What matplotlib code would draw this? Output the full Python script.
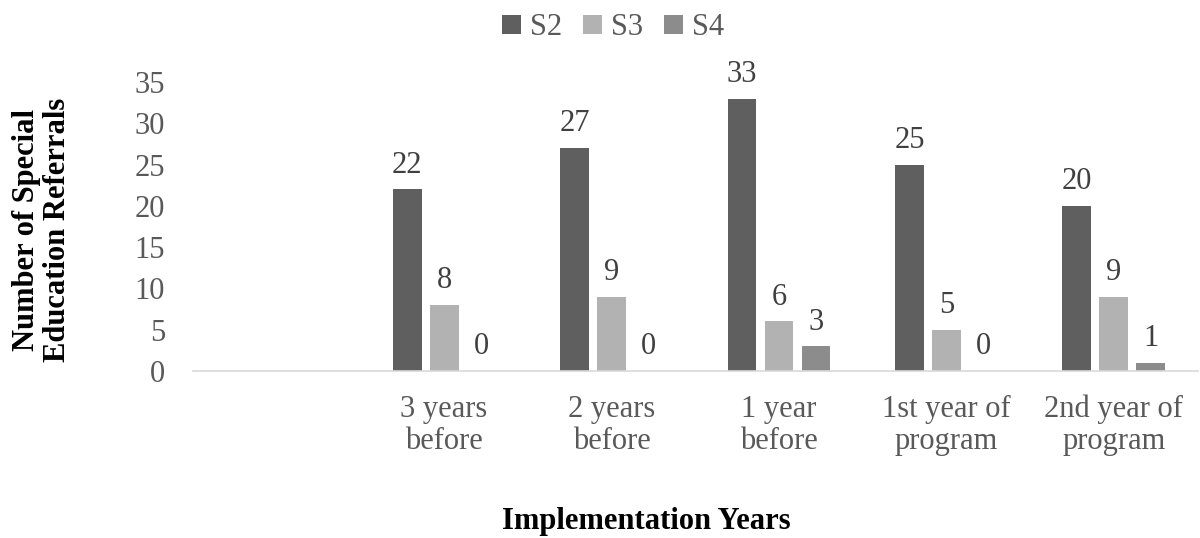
import numpy as np
import matplotlib.pyplot as plt

plt.rcParams['font.family'] = ['Liberation Serif', 'DejaVu Serif']

# referrals per school by implementation year
years = ['3 years\nbefore', '2 years\nbefore', '1 year\nbefore',
         '1st year of\nprogram', '2nd year of\nprogram']
s2 = [22, 27, 33, 25, 20]
s3 = [8, 9, 6, 5, 9]
s4 = [0, 0, 3, 0, 1]

series = [('S2', s2, '#5f5f5f'), ('S3', s3, '#b2b2b2'), ('S4', s4, '#8c8c8c')]

fig = plt.figure(figsize=(12, 5.38), dpi=100)
ax = fig.add_axes([0.1608, 0.3104, 0.8372, 0.5372])

x = np.arange(len(years))
bar_width = 0.173
step = 0.221

for i, (name, vals, col) in enumerate(series):
    pos = x + (i - 1) * step
    rects = ax.bar(pos, vals, bar_width, color=col, label=name, zorder=2)
    for r, v in zip(rects, vals):
        ax.annotate(str(v), (r.get_x() + r.get_width() / 2, v),
                    xytext=(0, 7), textcoords='offset points',
                    ha='center', va='bottom', fontsize=22, color='#404040')

# leave one empty slot on the left
ax.set_xlim(-1.5, len(years) - 0.5)
ax.set_ylim(0, 35)
ax.set_yticks(range(0, 36, 5))
ax.set_xticks(x)
ax.set_xticklabels(years, linespacing=1.15)

ax.tick_params(axis='y', length=0, pad=20, labelsize=22, labelcolor='#595959')
ax.tick_params(axis='x', length=0, pad=17, labelsize=22, labelcolor='#595959')
for side in ['top', 'right', 'left']:
    ax.spines[side].set_visible(False)
ax.spines['bottom'].set_color('#d9d9d9')
ax.spines['bottom'].set_linewidth(1.2)

fig.text(0.035, 0.572, 'Number of Special\nEducation Referrals', rotation=90,
         ha='center', va='center', fontsize=22, fontweight='bold',
         linespacing=1.05)
fig.text(0.539, 0.03, 'Implementation Years', ha='center', va='center',
         fontsize=22, fontweight='bold')

fig.legend(loc='center', bbox_to_anchor=(0.511, 0.948), ncol=3, frameon=False,
           fontsize=22, labelcolor='#595959', handlelength=0.6,
           handleheight=0.6, handletextpad=0.3, columnspacing=0.7)

plt.savefig('out.png', dpi=100)
